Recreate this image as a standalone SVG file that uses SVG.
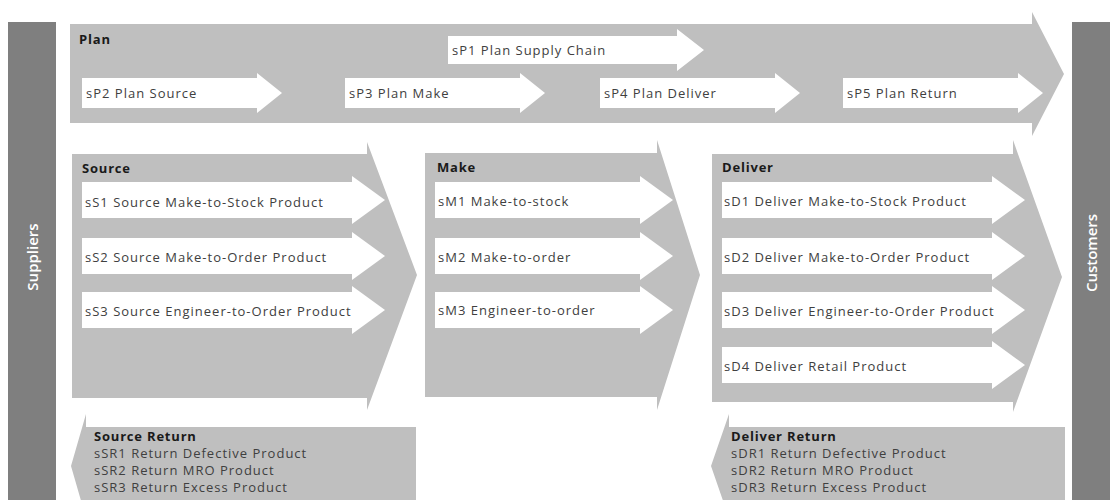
<svg xmlns="http://www.w3.org/2000/svg" width="1114" height="500" viewBox="0 0 1114 500">
<style>
.bar{fill:#7f7f7f}
.blk{fill:#bfbfbf}
.arr{fill:#ffffff}
.t{font-family:"Open Sans","Liberation Sans",sans-serif;font-size:13px;letter-spacing:1px;fill:#404040}
.h{font-family:"Open Sans","Liberation Sans",sans-serif;font-size:13px;letter-spacing:0.8px;font-weight:bold;fill:#1a1a1a}
.r{font-family:"Open Sans","Liberation Sans",sans-serif;font-size:13px;letter-spacing:1px;fill:#404040}
.side{font-family:"Open Sans","Liberation Sans",sans-serif;font-size:15px;font-weight:600;fill:#ffffff}
</style>
<rect width="1114" height="500" fill="#ffffff"/>
<g id="suppliers">
<rect class="bar" x="8" y="22" width="48" height="478"/>
<text class="side" transform="translate(38,257) rotate(-90)" text-anchor="middle">Suppliers</text>
</g>
<g id="customers">
<rect class="bar" x="1072" y="22" width="38" height="478"/>
<text class="side" transform="translate(1097,253) rotate(-90)" text-anchor="middle">Customers</text>
</g>
<g id="plan">
<path class="blk" d="M70,24 H1032 V12 L1064,74 L1032,136 V123 H70 Z"/>
<text class="h" x="79" y="44">Plan</text>
</g>
<g id="sP1">
<path class="arr" d="M448,36 H677 V29 L704,50 L677,71 V64 H448 Z"/>
<text class="t" x="452" y="55">sP1 Plan Supply Chain</text>
</g>
<g id="sP2">
<path class="arr" d="M82,78 H257 V73 L282,93 L257,113 V108 H82 Z"/>
<text class="t" x="86" y="98">sP2 Plan Source</text>
</g>
<g id="sP3">
<path class="arr" d="M345,78 H520 V73 L545,93 L520,113 V108 H345 Z"/>
<text class="t" x="349" y="98">sP3 Plan Make</text>
</g>
<g id="sP4">
<path class="arr" d="M600,78 H775 V73 L800,93 L775,113 V108 H600 Z"/>
<text class="t" x="604" y="98">sP4 Plan Deliver</text>
</g>
<g id="sP5">
<path class="arr" d="M843,78 H1018 V73 L1043,93 L1018,113 V108 H843 Z"/>
<text class="t" x="847" y="98">sP5 Plan Return</text>
</g>
<g id="source">
<path class="blk" d="M72,154 H367 V142 L417,275 L367,410 V398 H72 Z"/>
<text class="h" x="82" y="173">Source</text>
</g>
<g id="sS1">
<path class="arr" d="M82,182 H352 V176 L385,200 L352,224 V218 H82 Z"/>
<text class="t" x="85" y="207">sS1 Source Make-to-Stock Product</text>
</g>
<g id="sS2">
<path class="arr" d="M82,238 H352 V232 L385,256 L352,280 V274 H82 Z"/>
<text class="t" x="85" y="262">sS2 Source Make-to-Order Product</text>
</g>
<g id="sS3">
<path class="arr" d="M82,292 H352 V286 L385,310 L352,334 V328 H82 Z"/>
<text class="t" x="85" y="316">sS3 Source Engineer-to-Order Product</text>
</g>
<g id="make">
<path class="blk" d="M425,153 H657 V140 L700,275 L657,410 V397 H425 Z"/>
<text class="h" x="437" y="172">Make</text>
</g>
<g id="sM1">
<path class="arr" d="M435,182 H640 V176 L673,200 L640,224 V218 H435 Z"/>
<text class="t" x="438" y="206">sM1 Make-to-stock</text>
</g>
<g id="sM2">
<path class="arr" d="M435,238 H640 V232 L673,256 L640,280 V274 H435 Z"/>
<text class="t" x="438" y="262">sM2 Make-to-order</text>
</g>
<g id="sM3">
<path class="arr" d="M435,292 H640 V286 L673,310 L640,334 V328 H435 Z"/>
<text class="t" x="438" y="315">sM3 Engineer-to-order</text>
</g>
<g id="deliver">
<path class="blk" d="M712,154 H1013 V140 L1062,277 L1013,412 V402 H712 Z"/>
<text class="h" x="722" y="172">Deliver</text>
</g>
<g id="sD1">
<path class="arr" d="M722,182 H992 V176 L1025,200 L992,224 V218 H722 Z"/>
<text class="t" x="724" y="206">sD1 Deliver Make-to-Stock Product</text>
</g>
<g id="sD2">
<path class="arr" d="M722,238 H992 V232 L1025,256 L992,280 V274 H722 Z"/>
<text class="t" x="724" y="262">sD2 Deliver Make-to-Order Product</text>
</g>
<g id="sD3">
<path class="arr" d="M722,292 H992 V286 L1025,310 L992,334 V328 H722 Z"/>
<text class="t" x="724" y="316">sD3 Deliver Engineer-to-Order Product</text>
</g>
<g id="sD4">
<path class="arr" d="M722,347 H992 V341 L1025,365 L992,389 V383 H722 Z"/>
<text class="t" x="724" y="371">sD4 Deliver Retail Product</text>
</g>
<g id="source-return">
<path class="blk" d="M86,427 V414 L71,466 L86,518 V505 H416 V427 Z"/>
<text class="h" x="94" y="441">Source Return</text>
<text class="r" x="94" y="458">sSR1 Return Defective Product</text>
<text class="r" x="94" y="475">sSR2 Return MRO Product</text>
<text class="r" x="94" y="492">sSR3 Return Excess Product</text>
</g>
<g id="deliver-return">
<path class="blk" d="M729,427 V414 L711,466 L729,518 V505 H1065 V427 Z"/>
<text class="h" x="731" y="441">Deliver Return</text>
<text class="r" x="731" y="458">sDR1 Return Defective Product</text>
<text class="r" x="731" y="475">sDR2 Return MRO Product</text>
<text class="r" x="731" y="492">sDR3 Return Excess Product</text>
</g>
<g id="connectors"></g>
</svg>
